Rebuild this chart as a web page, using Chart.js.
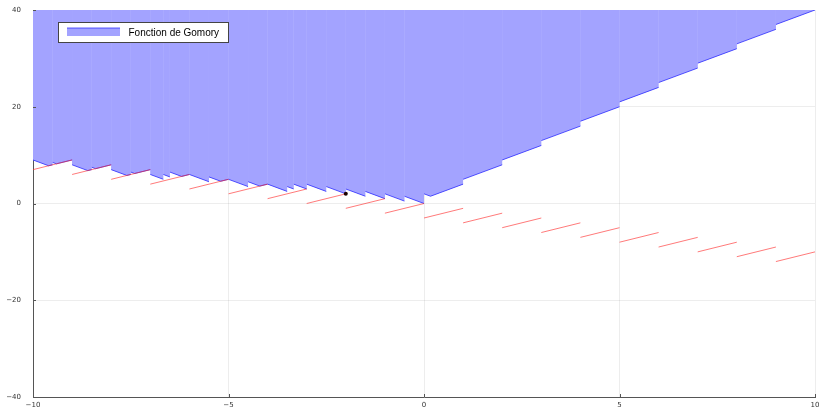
<!DOCTYPE html>
<html>
<head>
<meta charset="utf-8">
<script src="https://cdn.jsdelivr.net/npm/chart.js@4.4.1/dist/chart.umd.min.js"></script>
<style>
  html, body { margin: 0; padding: 0; background: #ffffff; }
  #wrap { width: 819px; height: 410px; }
</style>
</head>
<body>
<div id="wrap"><canvas id="chart" width="819" height="410"></canvas></div>
<script>
// Gomory function: lower edge of the shaded region, one vertex list per continuous piece
const gomoryX = [
  [-10, -9.6, -9.5], [-9.5, -9.4, -9], [-9, -8.6, -8.5], [-8.5, -8.4, -8],
  [-8, -7.6, -7.5], [-7.5, -7.4, -7], [-7, -6.667], [-6.667, -6.5],
  [-6.5, -6.2, -6], [-6, -5.5], [-5.5, -5.2, -5], [-5, -4.5],
  [-4.5, -4.2, -4], [-4, -3.5], [-3.5, -3.333], [-3.333, -3],
  [-3, -2.5], [-2.5, -2], [-2, -1.5], [-1.5, -1], [-1, -0.5], [-0.5, 0],
  [0, 0.167, 1], [1, 2], [2, 3], [3, 4], [4, 5], [5, 6], [6, 7], [7, 8], [8, 9], [9, 10]
];
const gomoryY = [
  [9, 7.8, 8], [8.5, 8.2, 9], [8, 6.8, 7], [7.5, 7.2, 8],
  [7, 5.8, 6], [6.5, 6.2, 7], [6, 5], [6, 5.5],
  [6.5, 5.6, 6], [6, 4.5], [5.5, 4.6, 5], [5, 3.5],
  [4.5, 3.6, 4], [4, 2.5], [3.5, 3], [4, 3],
  [4, 2.5], [3.5, 2], [3, 1.5], [2.5, 1], [2, 0.5], [1.5, 0],
  [2, 1.5, 4], [5, 8], [9, 12], [13, 16], [17, 20], [21, 24], [25, 28], [29, 32], [33, 36], [37, 40]
];

// Chvátal bound: one straight segment on each unit interval
const boundStartX = [-10, -9, -8, -7, -6, -5, -4, -3, -2, -1, 0, 1, 2, 3, 4, 5, 6, 7, 8, 9];
const boundStartY = [7, 6, 5, 4, 3, 2, 1, 0, -1, -2, -3, -4, -5, -6, -7, -8, -9, -10, -11, -12];
const boundEndY   = [9, 8, 7, 6, 5, 4, 3, 2, 1, 0, -1, -2, -3, -4, -5, -6, -7, -8, -9, -10];

// Highlighted point
const markX = [-2];
const markY = [2];

// Axis ticks
const xTicks = [-10, -5, 0, 5, 10];
const yTicks = [-40, -20, 0, 20, 40];

const FILL = 'rgb(163,163,255)';
const FILL_UNDER = 'rgb(176,176,255)';
const EDGE = 'rgba(40,40,255,0.75)';
const RED  = 'rgba(255,40,40,0.62)';
const TICK_FONT = { family: 'DejaVu Sans', size: 7 };
const fmtTick = v => (v < 0 ? '\u2212' + Math.abs(v) : String(v));

const datasets = [];
gomoryX.forEach((xs, i) => {
  datasets.push({
    label: 'Fonction de Gomory',
    data: xs.map((x, j) => ({ x: x, y: gomoryY[i][j] })),
    borderColor: EDGE,
    backgroundColor: FILL,
    borderWidth: 1,
    fill: 'end',
    pointRadius: 0,
    tension: 0,
    order: 3
  });
});

// whole region as one polygon underneath the pieces, so only faint seams remain
datasets.push({
  label: 'region',
  data: gomoryX.flatMap((xs, i) => xs.map((x, j) => ({ x: x, y: gomoryY[i][j] }))),
  borderColor: 'rgba(0,0,0,0)',
  backgroundColor: FILL_UNDER,
  borderWidth: 0,
  fill: 'end',
  pointRadius: 0,
  tension: 0,
  order: 4
});

const boundData = [];
boundStartX.forEach((x, i) => {
  boundData.push({ x: x, y: boundStartY[i] });
  boundData.push({ x: x + 1, y: boundEndY[i] });
  boundData.push({ x: x + 1, y: null });
});
datasets.push({
  label: 'bound',
  data: boundData,
  borderColor: RED,
  borderWidth: 1,
  fill: false,
  pointRadius: 0,
  spanGaps: false,
  order: 2
});

datasets.push({
  label: 'point',
  type: 'scatter',
  data: markX.map((x, i) => ({ x: x, y: markY[i] })),
  backgroundColor: '#1a0000',
  borderColor: '#000000',
  pointRadius: 2,
  borderWidth: 0,
  order: 1
});

// Inward tick marks on the left and bottom axes
const tickMarks = {
  id: 'tickMarks',
  afterDatasetsDraw(chart) {
    const ctx = chart.ctx;
    const xs = chart.scales.x, ys = chart.scales.y;
    const a = chart.chartArea;
    ctx.save();
    ctx.strokeStyle = '#555555';
    ctx.lineWidth = 1;
    ctx.beginPath();
    xTicks.forEach(v => {
      const px = Math.round(xs.getPixelForValue(v)) + 0.5;
      ctx.moveTo(px, a.bottom);
      ctx.lineTo(px, a.bottom - 3);
    });
    yTicks.forEach(v => {
      const py = Math.round(ys.getPixelForValue(v)) + 0.5;
      ctx.moveTo(a.left, py);
      ctx.lineTo(a.left + 3, py);
    });
    ctx.stroke();
    ctx.restore();
  }
};

// Framed legend box in the upper left of the plot
const boxLegend = {
  id: 'boxLegend',
  afterDraw(chart) {
    const ctx = chart.ctx;
    const a = chart.chartArea;
    const x0 = a.left + 25.5, y0 = a.top + 12.5, w = 170, h = 20;
    ctx.save();
    ctx.fillStyle = '#ffffff';
    ctx.fillRect(x0, y0, w, h);
    ctx.strokeStyle = '#444444';
    ctx.lineWidth = 1;
    ctx.strokeRect(x0, y0, w, h);
    ctx.fillStyle = FILL;
    ctx.fillRect(x0 + 8.5, y0 + 5.5, 53, 8);
    ctx.strokeStyle = EDGE;
    ctx.beginPath();
    ctx.moveTo(x0 + 8.5, y0 + 5.5);
    ctx.lineTo(x0 + 61.5, y0 + 5.5);
    ctx.stroke();
    ctx.fillStyle = '#000000';
    ctx.font = '10px "Liberation Sans"';
    ctx.textBaseline = 'middle';
    ctx.textAlign = 'left';
    ctx.fillText(chart.data.datasets[0].label, x0 + 70, y0 + h / 2 + 0.5);
    ctx.restore();
  }
};

new Chart(document.getElementById('chart'), {
  type: 'line',
  data: { datasets: datasets },
  plugins: [tickMarks, boxLegend],
  options: {
    responsive: false,
    devicePixelRatio: 1,
    animation: false,
    layout: { padding: { top: 10, right: 2, left: 0, bottom: 0 } },
    plugins: { legend: { display: false }, tooltip: { enabled: false } },
    scales: {
      x: {
        type: 'linear',
        min: -10, max: 10,
        afterBuildTicks(s) { s.ticks = xTicks.map(v => ({ value: v })); },
        afterFit(s) { s.height = 13; s.paddingLeft = 0; s.paddingRight = 0; },
        ticks: { font: TICK_FONT, color: '#333333', padding: 4, maxRotation: 0, callback: fmtTick },
        grid: { color: 'rgba(0,0,0,0.07)', drawTicks: false },
        border: { color: '#555555', width: 1 }
      },
      y: {
        type: 'linear',
        min: -40, max: 40,
        afterBuildTicks(s) { s.ticks = yTicks.map(v => ({ value: v })); },
        afterFit(s) { s.width = 33; s.paddingTop = 0; s.paddingBottom = 0; },
        ticks: { font: TICK_FONT, color: '#333333', padding: 12, callback: fmtTick },
        grid: { color: 'rgba(0,0,0,0.07)', drawTicks: false },
        border: { color: '#555555', width: 1 }
      }
    }
  }
});
</script>
</body>
</html>
